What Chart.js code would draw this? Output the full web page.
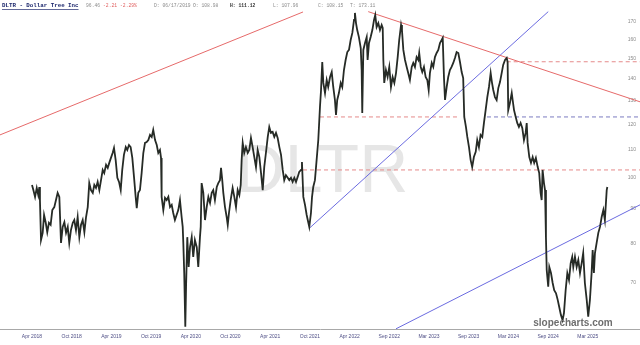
<!DOCTYPE html>
<html>
<head>
<meta charset="utf-8">
<script src="https://cdn.jsdelivr.net/npm/chart.js@4"></script>
<style>
  body { margin: 0; background: #fff; }
  canvas { display: block; }
</style>
</head>
<body>
<canvas id="chart" width="640" height="345"></canvas>
<script>
// DLTR price (x = weeks since Apr 2018)
const weeks = [
  0.0, 0.9, 2.0, 3.1, 4.1, 4.8, 5.2, 5.9, 7.0, 7.9, 9.0, 10.0, 11.1, 12.2, 13.3, 14.6, 15.7, 16.8, 17.9, 19.0,
  20.1, 21.2, 22.3, 23.4, 24.4, 25.5, 26.7, 27.7, 28.8, 29.9, 31.0, 32.1, 33.2, 34.3, 35.4, 36.5, 37.5, 38.6, 39.8, 40.8,
  41.9, 43.0, 44.1, 45.2, 46.3, 47.3, 48.5, 49.6, 50.6, 51.7, 52.8, 53.7, 54.8, 55.9, 57.0, 58.1, 59.1, 60.2, 61.4, 62.4,
  63.5, 64.6, 65.7, 66.8, 67.9, 68.6, 69.6, 70.7, 71.8, 72.9, 74.0, 75.1, 76.2, 77.3, 78.4, 79.4, 80.6, 81.7, 82.7, 83.8,
  84.5, 84.9, 86.0, 87.1, 88.2, 89.3, 90.4, 91.5, 92.5, 93.6, 94.7, 95.8, 96.9, 98.0, 98.7, 99.1, 99.7, 100.4, 100.9, 101.7,
  102.6, 103.5, 104.6, 105.6, 106.7, 107.9, 108.9, 110.0, 110.5, 111.1, 112.2, 113.3, 114.4, 115.5, 116.6, 117.7, 118.7, 119.8, 121.0, 122.0,
  123.1, 123.8, 124.6, 125.3, 126.4, 127.5, 128.2, 129.0, 130.1, 131.4, 132.5, 133.6, 134.7, 135.8, 136.7, 137.3, 138.0, 139.0, 140.1, 141.3,
  142.3, 143.4, 144.5, 145.6, 146.7, 147.8, 148.9, 150.0, 151.1, 152.1, 153.2, 154.4, 155.4, 156.5, 157.6, 158.7, 159.8, 160.9, 162.0, 163.1,
  164.2, 165.2, 166.3, 167.5, 168.5, 169.6, 170.7, 171.8, 172.9, 174.0, 175.0, 176.2, 176.8, 177.7, 178.8, 179.9, 181.0, 181.6, 182.7, 183.4,
  184.2, 185.3, 186.4, 187.5, 188.6, 189.3, 190.1, 190.8, 191.9, 193.0, 194.0, 195.2, 196.3, 197.3, 198.4, 199.1, 199.9, 201.0, 202.2, 203.2,
  204.3, 205.4, 206.5, 207.6, 208.7, 209.8, 210.9, 211.5, 212.2, 213.0, 214.1, 215.3, 215.9, 216.3, 217.0, 218.1, 219.2, 219.8, 220.7, 221.8,
  222.9, 224.0, 224.8, 225.7, 226.8, 227.9, 229.0, 229.7, 230.1, 230.7, 231.8, 232.9, 234.0, 235.1, 236.2, 237.3, 238.4, 239.5, 240.5, 241.7,
  242.3, 243.2, 244.3, 245.4, 246.4, 247.5, 248.7, 249.7, 250.8, 251.9, 253.0, 253.6, 254.6, 255.6, 256.7, 257.8, 258.9, 259.8, 260.6, 261.8,
  262.8, 263.9, 265.0, 266.1, 267.2, 268.3, 269.0, 269.8, 270.5, 271.6, 272.6, 273.7, 274.8, 275.9, 277.0, 278.1, 279.2, 280.3, 281.4, 282.4,
  283.1, 284.2, 285.1, 286.2, 287.3, 288.3, 289.4, 290.6, 291.6, 292.7, 293.8, 294.9, 296.0, 297.1, 298.2, 299.3, 300.4, 301.2, 302.1, 303.2,
  304.3, 305.4, 306.5, 307.6, 308.6, 309.8, 310.9, 311.5, 311.9, 313.0, 314.2, 314.8, 315.7, 316.8, 317.8, 318.9, 320.0, 321.1, 322.2, 323.3,
  324.0, 324.6, 325.7, 326.8, 327.9, 328.9, 330.0, 331.2, 332.2, 333.1, 333.8, 334.4, 335.3, 336.0, 336.6, 337.1, 338.1, 338.8, 339.9, 341.0,
  342.0, 343.2, 344.3, 345.3, 346.4, 347.5, 348.4, 349.5, 350.6, 351.7, 352.8, 353.8, 354.5, 355.6, 356.7, 357.8, 358.9, 360.0, 361.0, 362.1,
  363.3, 364.3, 365.4, 366.5, 367.2, 368.0, 368.7, 369.8, 370.9, 372.0, 373.1, 374.2, 375.2, 376.4, 376.8
];
const prices = [
  97.7, 96.0, 93.8, 96.7, 94.4, 97.0, 92.8, 81.0, 83.0, 88.2, 85.9, 83.2, 85.9, 85.3, 89.7, 90.6, 92.8, 95.1, 93.8, 80.2,
  84.7, 86.1, 83.0, 84.7, 80.2, 83.8, 85.9, 86.7, 83.8, 87.6, 81.8, 85.3, 86.7, 83.2, 87.6, 90.6, 98.3, 96.0, 95.1, 97.7,
  96.7, 98.7, 96.0, 99.3, 102.8, 101.7, 104.6, 103.5, 105.3, 107.1, 108.9, 110.8, 106.3, 100.1, 98.7, 96.0, 102.8, 108.2, 111.1, 110.0,
  111.9, 111.1, 107.1, 100.4, 93.8, 90.3, 95.1, 96.0, 101.7, 108.9, 112.7, 113.0, 113.8, 115.8, 115.0, 117.8, 113.8, 111.9, 108.9, 110.0,
  107.1, 93.8, 89.7, 93.5, 92.8, 93.8, 90.6, 91.3, 88.8, 86.7, 88.2, 89.7, 92.8, 87.6, 84.7, 80.2, 72.4, 60.3, 69.1, 81.8,
  73.9, 79.1, 81.8, 76.5, 81.0, 79.1, 73.9, 81.8, 84.7, 98.3, 95.1, 86.7, 90.6, 93.8, 91.9, 95.1, 96.0, 92.8, 97.0, 98.3,
  99.3, 103.5, 99.3, 95.1, 90.6, 87.6, 85.3, 88.8, 92.8, 96.7, 93.8, 90.6, 96.0, 94.4, 97.7, 106.3, 112.7, 108.9, 111.1, 108.9,
  110.0, 114.6, 111.1, 107.4, 103.8, 110.0, 107.4, 101.7, 96.0, 103.8, 108.9, 115.0, 119.0, 116.6, 117.0, 115.0, 116.6, 114.6, 111.1, 108.2,
  102.8, 99.3, 101.0, 100.1, 99.3, 100.1, 98.7, 100.1, 98.7, 100.4, 102.1, 102.8, 105.6, 93.8, 91.3, 88.2, 85.9, 84.7, 88.8, 93.8,
  97.0, 99.3, 106.3, 113.8, 127.3, 134.9, 148.4, 138.2, 133.5, 139.6, 136.3, 141.0, 143.4, 136.3, 130.4, 123.9, 130.4, 133.5, 138.2, 136.3,
  144.4, 149.4, 153.5, 154.6, 159.9, 163.8, 171.2, 175.3, 169.4, 165.4, 161.5, 155.6, 144.4, 124.8, 154.6, 158.3, 161.5, 149.4, 158.3, 161.5,
  165.4, 171.2, 174.1, 167.1, 169.4, 165.4, 168.3, 166.6, 149.4, 138.2, 144.4, 141.0, 145.9, 136.3, 141.0, 138.2, 142.9, 150.9, 159.9, 168.3,
  165.4, 154.6, 149.4, 145.9, 142.9, 139.6, 145.9, 147.9, 145.9, 150.9, 149.4, 153.0, 145.9, 143.4, 145.9, 141.0, 139.6, 134.9, 142.9, 147.9,
  145.9, 150.9, 153.0, 154.6, 158.3, 159.9, 161.0, 141.0, 130.4, 136.3, 141.0, 144.4, 145.9, 147.9, 150.4, 153.5, 153.0, 148.4, 143.4, 140.5,
  123.1, 119.0, 115.0, 111.1, 106.3, 103.8, 107.4, 109.3, 113.8, 111.1, 115.8, 115.0, 120.6, 126.0, 131.7, 136.3, 142.9, 138.6, 134.9, 131.7,
  130.4, 135.8, 138.6, 142.9, 146.9, 149.4, 150.4, 148.4, 126.0, 129.1, 133.5, 130.4, 126.0, 123.1, 120.6, 119.0, 120.6, 118.6, 113.8, 116.6,
  120.6, 112.7, 107.4, 105.3, 107.4, 105.3, 107.1, 103.8, 101.7, 95.1, 92.8, 102.8, 98.3, 96.0, 81.8, 73.2, 69.1, 73.9, 72.4, 70.0,
  68.3, 67.6, 66.1, 64.5, 62.8, 61.7, 63.2, 68.3, 72.4, 70.7, 74.9, 76.5, 73.9, 76.5, 73.9, 75.7, 72.4, 74.9, 77.5, 70.0,
  66.1, 62.4, 66.1, 72.4, 78.3, 72.4, 77.5, 80.2, 83.0, 84.7, 87.6, 89.7, 86.7, 96.0, 97.0
];

// axis ticks
const tickWeeks = [0, 26, 52, 78, 104, 130, 156, 182, 208, 234, 260, 286, 312, 338, 364];
const tickLabels = ['Apr 2018', 'Oct 2018', 'Apr 2019', 'Oct 2019', 'Apr 2020', 'Oct 2020', 'Apr 2021', 'Oct 2021',
  'Apr 2022', 'Sep 2022', 'Mar 2023', 'Sep 2023', 'Mar 2024', 'Sep 2024', 'Mar 2025'];
const priceTicks = [70, 80, 90, 100, 110, 120, 130, 140, 150, 160, 170];

// drawn trend lines: [start, end]
const trendWeeks = [[-21, 177.5], [220.2, 398.2], [181.6, 338.1], [238.4, 398.2]];
const trendPrices = [[115.8, 175.9], [176.1, 129.6], [84.3, 176.1], [59.9, 91.3]];
const trendColors = ['#e66a6a', '#e66a6a', '#6b6be0', '#6b6be0'];

// horizontal levels
const levelPrices = [148.5, 123.1, 123.1, 102.8];
const levelStart = [310.9, 188.6, 298.0, 177.5];
const levelEnd = [398.2, 280.3, 398.2, 398.2];
const levelColors = ['#e58a8a', '#e58a8a', '#7b7bc0', '#e58a8a'];

const weekMin = -20.96, weekMax = 398.2;
const priceMin = 59.86, priceMax = 183.2;

const datasets = [{
    label: 'DLTR',
    data: weeks.map((w, i) => ({ x: w, y: prices[i] })),
    borderColor: '#262b26',
    borderWidth: 1.8,
    pointRadius: 0,
    tension: 0
}];

trendWeeks.forEach((w, i) => {
    datasets.push({
        data: [{ x: w[0], y: trendPrices[i][0] }, { x: w[1], y: trendPrices[i][1] }],
        borderColor: trendColors[i],
        borderWidth: 1,
        pointRadius: 0
    });
});

levelPrices.forEach((p, i) => {
    datasets.push({
        data: [{ x: levelStart[i], y: p }, { x: levelEnd[i], y: p }],
        borderColor: levelColors[i],
        borderWidth: 1,
        borderDash: [4, 3],
        pointRadius: 0
    });
});

// watermark, header and site name
const decorations = {
    id: 'decorations',
    beforeDatasetsDraw(chart) {
        const ctx = chart.ctx;
        ctx.save();
        ctx.fillStyle = '#e6e6e6';
        ctx.font = '68px "Liberation Sans", Arial, sans-serif';
        ctx.textAlign = 'center';
        ctx.textBaseline = 'alphabetic';
        ctx.fillText('DLTR', 322, 192);
        ctx.restore();
    },
    afterDraw(chart) {
        const ctx = chart.ctx;
        ctx.save();
        ctx.textBaseline = 'middle';
        const mono = '"Liberation Mono", "DejaVu Sans Mono", monospace';
        // title
        ctx.font = 'bold 5.8px ' + mono;
        ctx.fillStyle = '#1f2a6e';
        ctx.fillText('DLTR - Dollar Tree Inc', 2, 6);
        const tw = ctx.measureText('DLTR - Dollar Tree Inc').width;
        ctx.strokeStyle = '#1f2a6e';
        ctx.lineWidth = 0.7;
        ctx.beginPath();
        ctx.moveTo(2, 9.5);
        ctx.lineTo(2 + tw, 9.5);
        ctx.stroke();
        // quote fields
        const parts = [
            ['96.46', 86, '#8a8a8a', ''],
            ['-2.21', 103, '#e06060', ''],
            ['-2.29%', 120, '#e06060', ''],
            ['D: 06/17/2019', 154, '#8a8a8a', ''],
            ['O: 108.98', 193, '#8a8a8a', ''],
            ['H: 111.12', 230, '#333333', 'bold '],
            ['L: 107.96', 273, '#8a8a8a', ''],
            ['C: 108.15', 318, '#8a8a8a', ''],
            ['T: 173.11', 350, '#8a8a8a', '']
        ];
        parts.forEach(([t, x, c, w]) => {
            ctx.font = w + '4.7px ' + mono;
            ctx.fillStyle = c;
            ctx.fillText(t, x, 6);
        });

        ctx.font = 'bold 10px "Liberation Sans", Arial, sans-serif';
        ctx.fillStyle = '#6e6e6e';
        ctx.textAlign = 'center';
        ctx.textBaseline = 'alphabetic';
        ctx.fillText('slopecharts.com', 573, 326);
        ctx.restore();
    }
};

new Chart(document.getElementById('chart'), {
    type: 'line',
    data: { datasets: datasets },
    options: {
        responsive: false,
        animation: false,
        layout: { padding: 0 },
        plugins: {
            legend: { display: false },
            tooltip: { enabled: false }
        },
        scales: {
            x: {
                type: 'linear',
                min: weekMin,
                max: weekMax,
                grid: { display: false, drawTicks: false },
                border: { display: true, color: '#a8a8a8', width: 1 },
                afterBuildTicks: axis => { axis.ticks = tickWeeks.map(v => ({ value: v })); },
                afterFit: axis => { axis.height = 16; },
                ticks: {
                    autoSkip: false,
                    maxRotation: 0,
                    padding: 5,
                    color: '#4f4f86',
                    font: { size: 5, family: '"Liberation Sans", Arial, sans-serif' },
                    callback: (v) => tickLabels[tickWeeks.indexOf(v)]
                }
            },
            y: {
                type: 'logarithmic',
                position: 'right',
                min: priceMin,
                max: priceMax,
                grid: { display: false, drawTicks: false },
                border: { display: false },
                afterBuildTicks: axis => { axis.ticks = priceTicks.map(v => ({ value: v })); },
                afterFit: axis => { axis.width = 0; },
                ticks: {
                    mirror: true,
                    padding: -4,
                    color: '#8c8c8c',
                    font: { size: 5, family: '"Liberation Sans", Arial, sans-serif' },
                    callback: (v) => String(v)
                }
            }
        }
    },
    plugins: [decorations]
});
</script>
</body>
</html>
